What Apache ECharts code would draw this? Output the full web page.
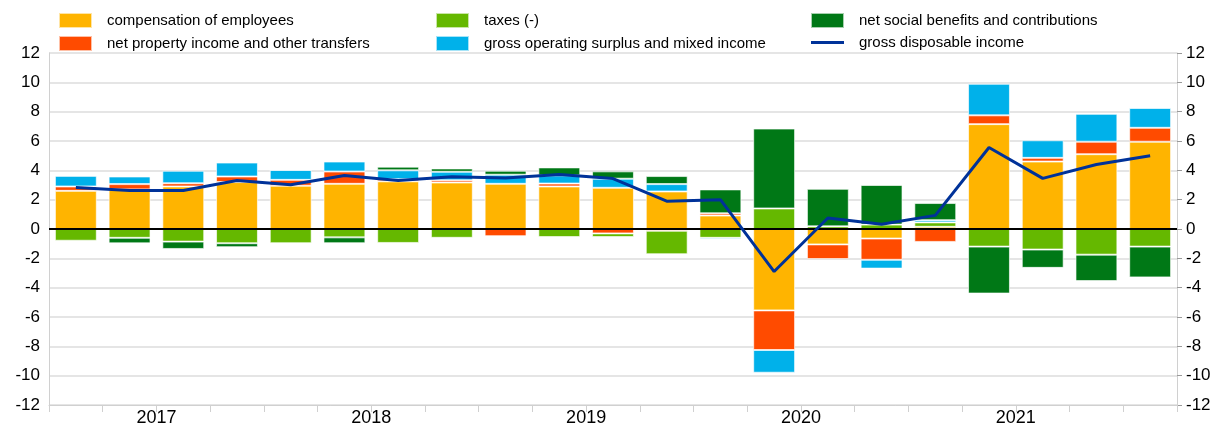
<!DOCTYPE html>
<html>
<head>
<meta charset="utf-8">
<script src="https://cdn.jsdelivr.net/npm/echarts@6/dist/echarts.min.js"></script>
<style>
html,body{margin:0;padding:0;background:#fff;}
#chart{width:1220px;height:427px;}
</style>
</head>
<body>
<div id="chart"></div>
<script>
const categories = ['2017Q1','2017Q2','2017Q3','2017Q4','2018Q1','2018Q2','2018Q3','2018Q4','2019Q1','2019Q2','2019Q3','2019Q4','2020Q1','2020Q2','2020Q3','2020Q4','2021Q1','2021Q2','2021Q3','2021Q4','2022Q1'];
const yearTickPos = [2, 6, 10, 14, 18];
const yearLabels = ['2017', '2018', '2019', '2020', '2021'];

const compensation = [2.6, 2.7, 2.9, 3.2, 2.95, 3.08, 3.25, 3.17, 3.08, 2.9, 2.81, 2.56, 0.92, -5.55, -1.05, -0.65, 0.15, 7.15, 4.6, 5.1, 5.95];
const netProperty  = [0.3, 0.36, 0.22, 0.38, 0.4, 0.84, 0.15, 0.15, -0.5, 0.2, -0.3, -0.12, 0.15, -2.7, -1.0, -1.45, -0.88, 0.6, 0.25, 0.85, 0.95];
const taxes        = [-0.8, -0.6, -0.86, -0.97, -0.97, -0.57, -0.95, -0.6, 0, -0.55, -0.25, -1.6, -0.6, 1.4, 0.18, 0.3, 0.3, -1.2, -1.4, -1.75, -1.2];
const grossOpSurplus = [0.73, 0.52, 0.85, 0.95, 0.68, 0.68, 0.6, 0.58, 0.62, 0.55, 0.62, 0.5, -0.1, -1.55, 0, -0.6, 0.15, 2.15, 1.2, 1.9, 1.35];
const netSocial    = [0, -0.38, -0.5, -0.27, 0, -0.4, 0.25, 0.23, 0.27, 0.55, 0.5, 0.55, 1.63, 5.45, 2.56, 2.7, 1.17, -3.2, -1.25, -1.8, -2.1];
const grossDisposable = [2.83, 2.63, 2.63, 3.31, 3.02, 3.65, 3.3, 3.57, 3.47, 3.71, 3.44, 1.9, 2.0, -2.9, 0.75, 0.33, 0.93, 5.56, 3.45, 4.4, 5.0];

const names = ['compensation of employees','net property income and other transfers','taxes (-)','gross operating surplus and mixed income','net social benefits and contributions','gross disposable income'];
const colors = ['#FFB400','#FF4B00','#65B800','#00B1EA','#007816','#003299'];

const chart = echarts.init(document.getElementById('chart'), null, {renderer: 'canvas'});

function barSeries(i, data) {
  return {
    name: names[i], type: 'bar', stack: 'total', stackStrategy: 'samesign',
    data: data, barCategoryGap: '22%',
    itemStyle: {color: colors[i], borderColor: 'rgba(255,255,255,0.65)', borderWidth: 1},
    emphasis: {disabled: true}
  };
}

const legendText = {fontFamily: 'Liberation Sans, Arial, sans-serif', fontSize: 15, color: '#000', padding: [0, 0, 0, 10]};
function legendCol(left, items) {
  return {
    left: left, top: 12, orient: 'vertical', itemWidth: 33, itemHeight: 15, itemGap: 6,
    icon: 'rect', symbolKeepAspect: true,
    selectedMode: false, data: items, textStyle: legendText, padding: 0
  };
}

const axisGray = '#d0d0d0';
const labelFont = {fontFamily: 'Liberation Sans, Arial, sans-serif', fontSize: 17, color: '#000'};

chart.setOption({
  animation: false,
  color: colors,
  legend: [
    legendCol(58, [names[0], names[1]]),
    legendCol(435, [names[2], names[3]]),
    legendCol(810, [names[4], {name: names[5], icon: 'path://M0,0 L33,0 L33,3 L0,3 Z'}])
  ],
  grid: {left: 49, right: 43, top: 53, bottom: 21, containLabel: false},
  xAxis: [
    {
      type: 'category', data: categories, position: 'bottom',
      axisLine: {show: true, onZero: false, lineStyle: {color: axisGray, width: 1}},
      axisTick: {show: true, interval: 0, length: 7, lineStyle: {color: axisGray}},
      axisLabel: {show: false}, splitLine: {show: false}
    },
    {
      type: 'value', min: 0, max: 21, interval: 1, position: 'bottom',
      axisLine: {show: false}, axisTick: {show: false}, splitLine: {show: false},
      axisLabel: {
        show: true, margin: 4, showMinLabel: true, showMaxLabel: true,
        fontSize: 18, fontFamily: labelFont.fontFamily, color: '#000',
        formatter: function (v) { const k = yearTickPos.indexOf(v); return k >= 0 ? yearLabels[k] : ''; }
      }
    }
  ],
  yAxis: [
    {
      type: 'value', min: -12, max: 12, interval: 2, position: 'left',
      axisLine: {show: true, lineStyle: {color: axisGray}},
      axisTick: {show: false},
      axisLabel: Object.assign({margin: 9}, labelFont),
      splitLine: {show: true, lineStyle: {color: '#dcdcdc', width: 1.5}}
    },
    {
      type: 'value', min: -12, max: 12, interval: 2, position: 'right',
      axisLine: {show: true, lineStyle: {color: axisGray}},
      axisTick: {show: true, length: 5, lineStyle: {color: '#999'}},
      axisLabel: Object.assign({margin: 9}, labelFont),
      splitLine: {show: false}
    }
  ],
  series: [
    barSeries(0, compensation),
    barSeries(1, netProperty),
    barSeries(2, taxes),
    barSeries(3, grossOpSurplus),
    barSeries(4, netSocial),
    {
      name: names[5], type: 'line', data: grossDisposable, symbol: 'none', z: 5,
      lineStyle: {color: colors[5], width: 3}, itemStyle: {color: colors[5]},
      emphasis: {disabled: true},
      markLine: {
        silent: true, symbol: 'none', label: {show: false},
        lineStyle: {color: '#000', width: 2, type: 'solid'},
        data: [{yAxis: 0}]
      }
    }
  ]
});
</script>
</body>
</html>
